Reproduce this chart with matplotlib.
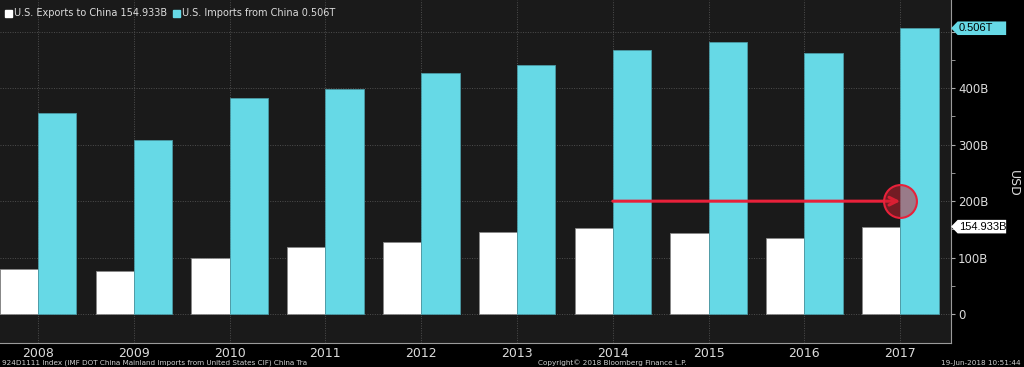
import numpy as np
import matplotlib.pyplot as plt
from matplotlib.patches import Polygon

years = ["2008", "2009", "2010", "2011", "2012", "2013", "2014", "2015", "2016", "2017"]
exports = [80.7, 77.2, 100.2, 118.4, 128.4, 146.0, 153.0, 144.3, 134.8, 154.933]  # billions USD
imports = [356, 309, 383, 399, 426, 441, 468, 482, 462, 506]  # billions USD
y_ticks = [0, 100, 200, 300, 400]
y_tick_labels = ["0", "100B", "200B", "300B", "400B"]

bg = "#1a1a1a"
cyan = "#66d9e6"
txt = "#dcdcdc"
red = "#e8213a"

fig = plt.figure(figsize=(10.24, 3.67), dpi=100, facecolor="black")
ax = fig.add_axes([0, 24 / 367, 951 / 1024, 343 / 367], facecolor=bg)

x = np.arange(len(years))
ax.bar(x - 0.2, exports, width=0.4, color="white", edgecolor="#888888", linewidth=0.6, zorder=2)
ax.bar(x + 0.2, imports, width=0.4, color=cyan, edgecolor="#4a9aa5", linewidth=0.6, zorder=2)

ax.set_xlim(-0.397, 9.53)
ax.set_ylim(-51, 556)

# gridlines
ax.set_xticks(x)
ax.set_xticklabels(years, color=txt, fontsize=9)
ax.set_yticks(y_ticks + [500])
ax.set_yticklabels(y_tick_labels + [""], color=txt, fontsize=8.5)
ax.set_yticks(np.arange(50, 500, 100), minor=True)
ax.grid(True, color="#4e4e4e", linestyle=(0, (1, 1.5)), linewidth=0.7, zorder=0)
ax.yaxis.tick_right()
ax.tick_params(axis="y", which="both", colors="#aaaaaa", length=3, pad=2, labelcolor=txt)
ax.tick_params(axis="x", length=0, pad=3, labelcolor=txt)
for s in ["left", "top"]:
    ax.spines[s].set_visible(False)
for s in ["right", "bottom"]:
    ax.spines[s].set_color("#9a9a9a")
    ax.spines[s].set_linewidth(0.8)

fig.text(1013 / 1024, 0.5, "USD", rotation=-90, color=txt, fontsize=9, ha="center", va="center")

# value tags on the axis
def tag(value, label, face):
    tr = ax.get_yaxis_transform()
    h = 12
    poly = Polygon([(1.0, value), (1.007, value + h), (1.058, value + h),
                    (1.058, value - h), (1.007, value - h)],
                   closed=True, transform=tr, facecolor=face, edgecolor="none",
                   clip_on=False, zorder=5)
    ax.add_patch(poly)
    ax.text(1.008, value, label, transform=tr, color="black", fontsize=8,
            family="Liberation Sans", ha="left", va="center", clip_on=False, zorder=6)

tag(imports[-1], "0.506T", cyan)
tag(exports[-1], "154.933B", "white")

# red arrow with circle
ax.annotate("", xy=(9, 200), xytext=(6, 200),
            arrowprops=dict(arrowstyle="->", color=red, lw=2.2, mutation_scale=14,
                            shrinkA=0, shrinkB=0), zorder=4)
ax.scatter([9], [200], s=560, facecolor=(0.8, 0.12, 0.18, 0.5), edgecolor=red,
           linewidth=1.5, zorder=5)

# legend
fig.patches.append(plt.Rectangle((5 / 1024, 1 - 17 / 367), 7 / 1024, 7 / 367,
                                 transform=fig.transFigure, color="white"))
fig.text(14 / 1024, 1 - 13 / 367, "U.S. Exports to China 154.933B", color=txt, fontsize=7, va="center")
fig.patches.append(plt.Rectangle((173 / 1024, 1 - 17 / 367), 7 / 1024, 7 / 367,
                                 transform=fig.transFigure, color=cyan))
fig.text(182 / 1024, 1 - 13 / 367, "U.S. Imports from China 0.506T", color=txt, fontsize=7, va="center")

# footer
fig.text(2 / 1024, 4 / 367, "924D1111 Index (IMF DOT China Mainland Imports from United States CIF) China Tra",
         color="#cfcfcf", fontsize=5.2, va="center")
fig.text(612 / 1024, 4 / 367, "Copyright\u00a9 2018 Bloomberg Finance L.P.", color="#cfcfcf",
         fontsize=5.2, ha="center", va="center")
fig.text(1021 / 1024, 4 / 367, "19-Jun-2018 10:51:44", color="#cfcfcf", fontsize=5.2,
         ha="right", va="center")

fig.savefig("out.png", dpi=100, facecolor="black")
